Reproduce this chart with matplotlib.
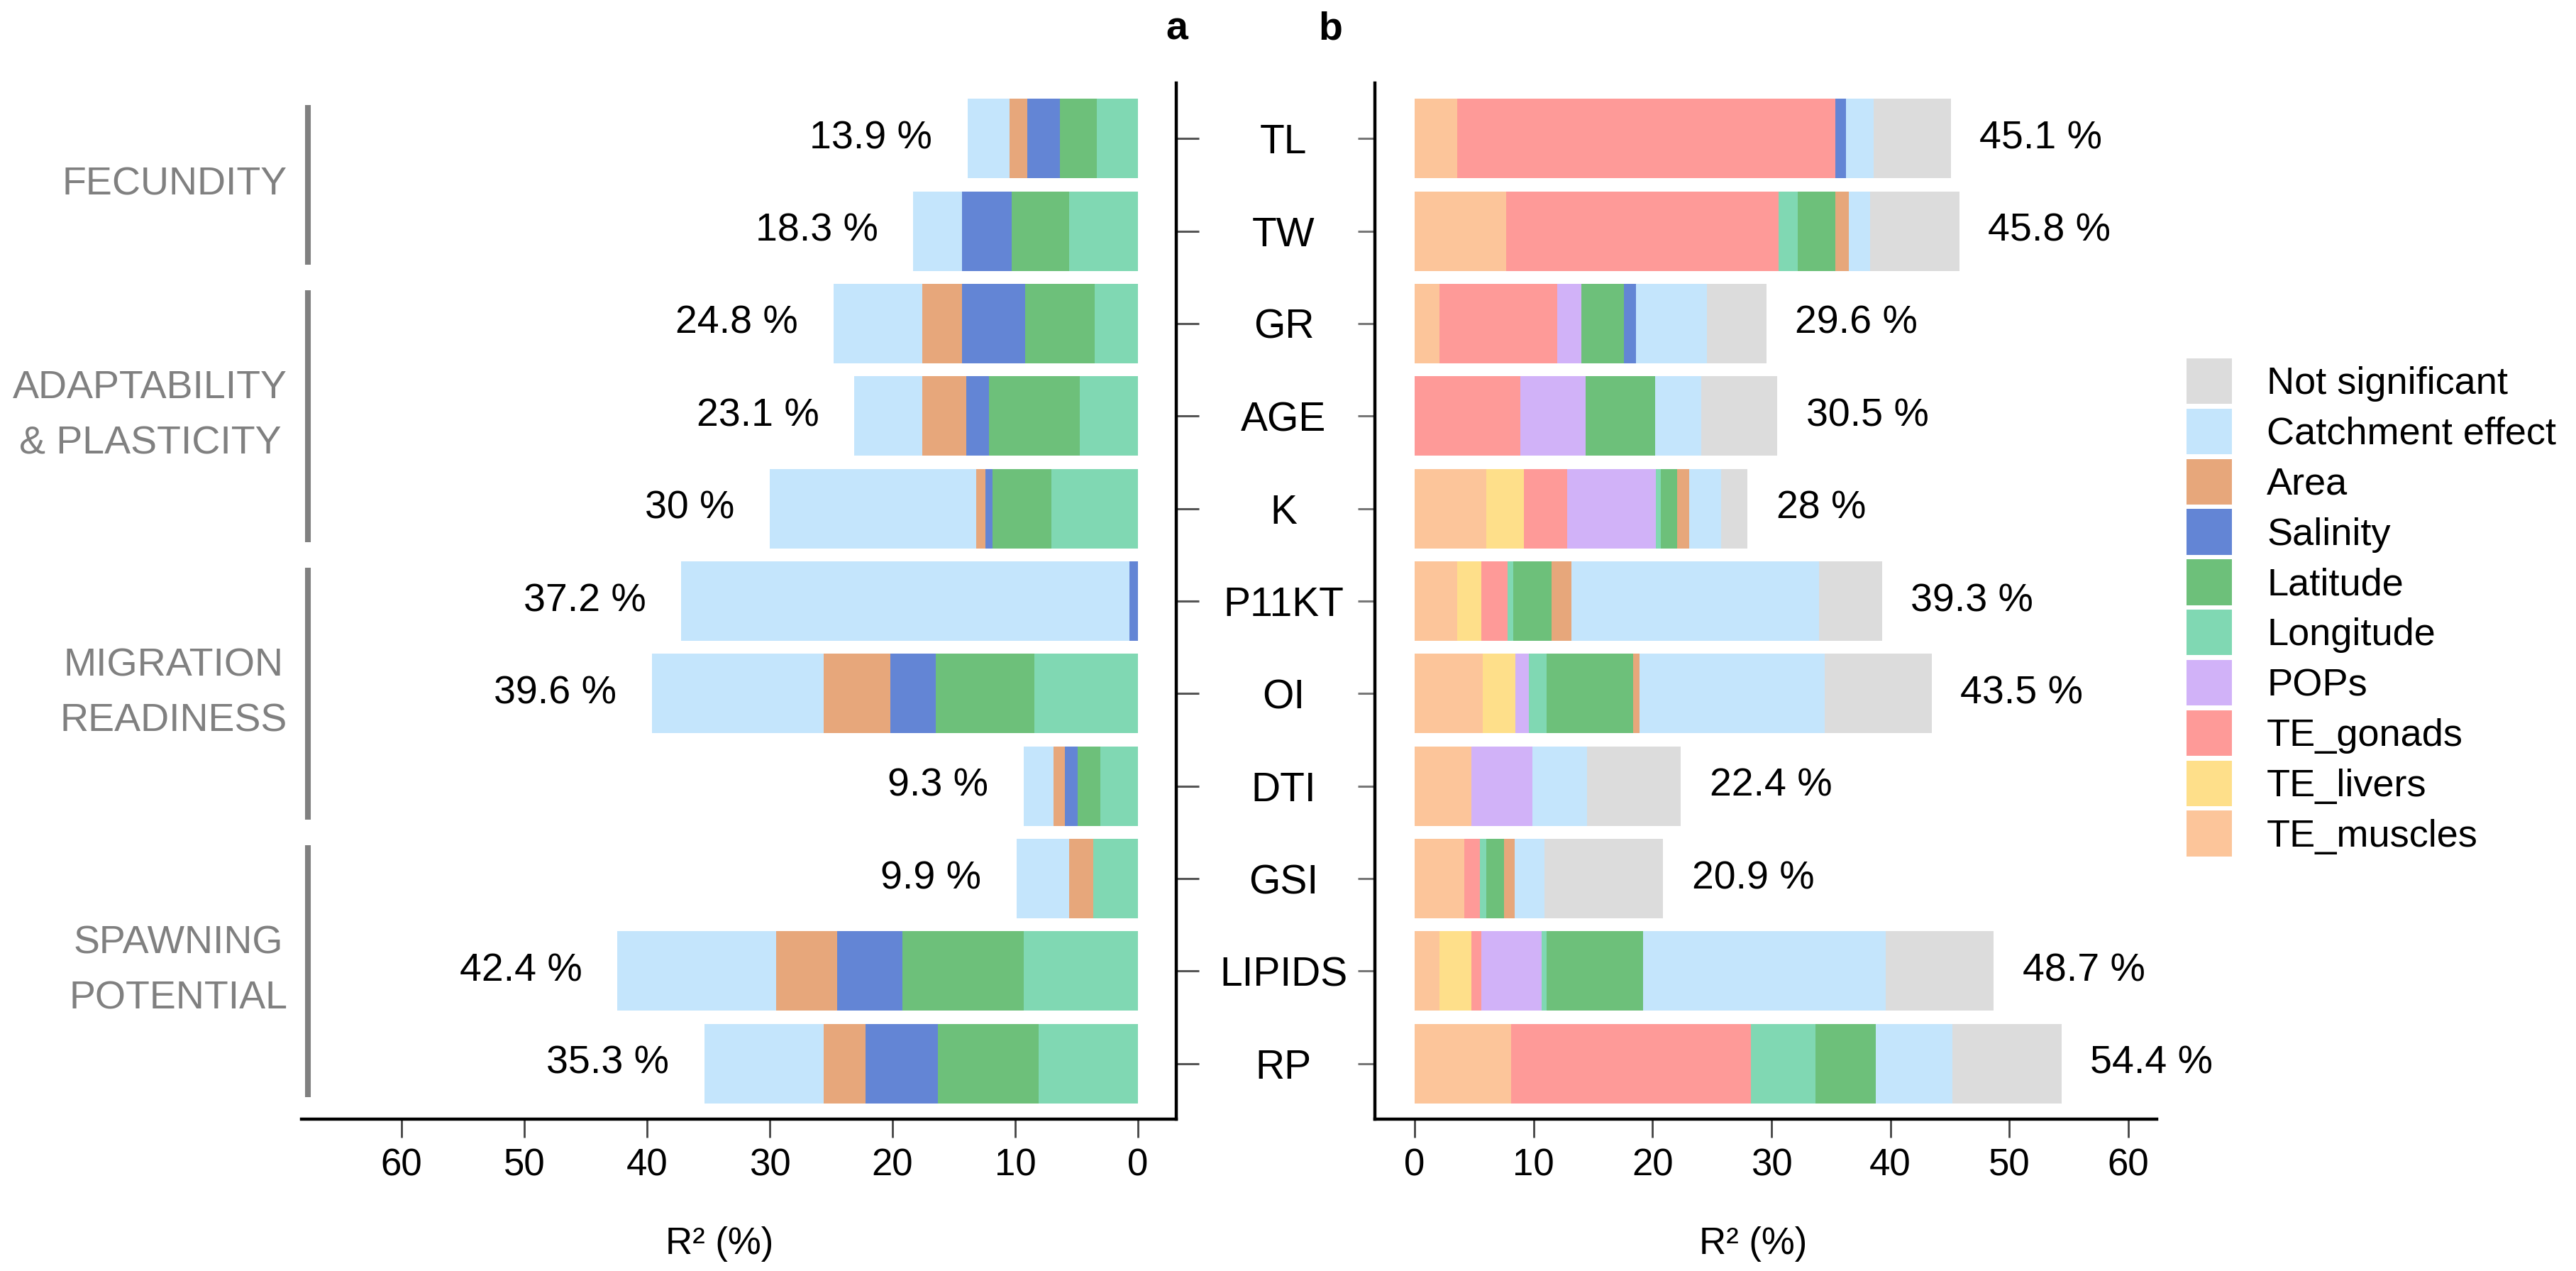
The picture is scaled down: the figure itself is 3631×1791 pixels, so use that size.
import numpy as np
import matplotlib
matplotlib.use("Agg")
import matplotlib.pyplot as plt
from matplotlib.patches import Patch
from matplotlib.transforms import blended_transform_factory

plt.rcParams['font.family'] = ['Liberation Sans', 'DejaVu Sans']

traits = ["TL", "TW", "GR", "AGE", "K", "P11KT", "OI", "DTI", "GSI", "LIPIDS", "RP"]
groups = ["FECUNDITY", "ADAPTABILITY\n& PLASTICITY", "MIGRATION\nREADINESS", "SPAWNING\nPOTENTIAL"]
group_members = [(0, 1), (2, 4), (5, 7), (8, 10)]

# panel a (stacked from 0 outwards: Longitude, Latitude, Salinity, Area, Catchment)
a_longitude = [3.35, 5.6, 3.5, 4.75, 7.05, 0, 8.45, 3.05, 3.65, 9.3, 8.1]
a_latitude = [3.0, 4.7, 5.7, 7.4, 4.8, 0, 8.0, 1.85, 0, 9.9, 8.2]
a_salinity = [2.65, 4.05, 5.15, 1.85, 0.6, 0.7, 3.75, 1.05, 0, 5.3, 5.9]
a_area = [1.45, 0, 3.2, 3.55, 0.75, 0, 5.4, 0.95, 1.95, 5.0, 3.4]
a_catchment = [3.45, 3.95, 7.25, 5.55, 16.8, 36.5, 14.0, 2.4, 4.3, 12.9, 9.7]
a_total = [13.9, 18.3, 24.8, 23.1, 30, 37.2, 39.6, 9.3, 9.9, 42.4, 35.3]

# panel b
b_muscles = [3.6, 7.7, 2.1, 0, 6.0, 3.6, 5.7, 4.8, 4.2, 2.1, 8.1]
b_livers = [0, 0, 0, 0, 3.2, 2.0, 2.8, 0, 0, 2.7, 0]
b_gonads = [31.8, 22.9, 9.9, 8.9, 3.65, 2.2, 0, 0, 1.3, 0.8, 20.2]
b_pops = [0, 0, 2.0, 5.5, 7.45, 0, 1.1, 5.1, 0, 5.1, 0]
b_longitude = [0, 1.6, 0, 0, 0.4, 0.5, 1.5, 0, 0.5, 0.4, 5.4]
b_latitude = [0, 3.2, 3.6, 5.8, 1.4, 3.2, 7.3, 0, 1.5, 8.1, 5.1]
b_salinity = [0.9, 0, 1.0, 0, 0, 0, 0, 0, 0, 0, 0]
b_area = [0, 1.1, 0, 0, 1.0, 1.7, 0.5, 0, 0.9, 0, 0]
b_catchment = [2.3, 1.8, 6.0, 3.9, 2.65, 20.8, 15.6, 4.6, 2.5, 20.4, 6.4]
b_notsig = [6.5, 7.5, 5.0, 6.4, 2.25, 5.3, 9.0, 7.9, 10.0, 9.1, 9.2]
b_total = [45.1, 45.8, 29.6, 30.5, 28, 39.3, 43.5, 22.4, 20.9, 48.7, 54.4]

colors = {
    "Not significant": "#DCDCDC",
    "Catchment effect": "#C4E5FC",
    "Area": "#E7A77B",
    "Salinity": "#6385D5",
    "Latitude": "#6DC07A",
    "Longitude": "#80D8B3",
    "POPs": "#D1B2F8",
    "TE_gonads": "#FE9A98",
    "TE_livers": "#FEDF8A",
    "TE_muscles": "#FCC59A",
}

a_series = [("Longitude", a_longitude), ("Latitude", a_latitude), ("Salinity", a_salinity),
            ("Area", a_area), ("Catchment effect", a_catchment)]
b_series = [("TE_muscles", b_muscles), ("TE_livers", b_livers), ("TE_gonads", b_gonads),
            ("POPs", b_pops), ("Longitude", b_longitude), ("Latitude", b_latitude),
            ("Salinity", b_salinity), ("Area", b_area), ("Catchment effect", b_catchment),
            ("Not significant", b_notsig)]

W, H = 3631, 1791
fig = plt.figure(figsize=(W / 100, H / 100), dpi=100)
ax1 = fig.add_axes([425 / W, 1 - 1577 / H, (1658 - 425) / W, (1577 - 117) / H])
ax2 = fig.add_axes([1938 / W, 1 - 1577 / H, (3040 - 1938) / W, (1577 - 117) / H])

y = np.arange(len(traits))
bh = 0.86


def stack(ax, series):
    left = np.zeros(len(traits))
    for name, vals in series:
        vals = np.array(vals, dtype=float)
        ax.barh(y, vals, left=left, height=bh, color=colors[name], linewidth=0)
        left += vals


stack(ax1, a_series)
stack(ax2, b_series)

ax1.set_xlim(68.15, -3.12)
ax2.set_xlim(-3.34, 62.4)
for ax in (ax1, ax2):
    ax.set_ylim(10.6, -0.6)
    ax.set_xticks(range(0, 61, 10))
    ax.tick_params(axis='x', length=19, width=2, color='#444444', labelsize=38, pad=10)
    for s in ax.spines.values():
        s.set_linewidth(3.2)
    ax.spines['top'].set_visible(False)

ax1.spines['left'].set_visible(False)
ax2.spines['right'].set_visible(False)

ax1.yaxis.tick_right()
ax1.set_yticks(y, traits)
ax1.tick_params(axis='y', length=23, width=2.2, color='#555555', labelsize=41, pad=86)
for lbl in ax1.get_yticklabels():
    lbl.set_ha('center')

ax2.set_yticks(y)
ax2.set_yticklabels([])
ax2.tick_params(axis='y', length=17, width=2.2, color='#777777')

for ax, fx in ((ax1, 0.478), (ax2, 0.484)):
    ax.set_xlabel("R² (%)", fontsize=38, va='center')
    ax.xaxis.set_label_coords(fx, -0.1205)

for i, t in enumerate(a_total):
    ax1.annotate(f"{t:g} %", xy=(t, i), xytext=(-36, 0), textcoords='offset points',
                 ha='right', va='center', fontsize=40)
for i, t in enumerate(b_total):
    ax2.annotate(f"{t:g} %", xy=(t, i), xytext=(29, 0), textcoords='offset points',
                 ha='left', va='center', fontsize=40)

# trait groups with grey brackets
tr = blended_transform_factory(fig.transFigure, ax1.transData)
for name, (first, last) in zip(groups, group_members):
    ax1.plot([434 / W, 434 / W], [first - 0.36, last + 0.36], transform=tr,
             color='#808080', lw=5.8, solid_capstyle='butt', clip_on=False)
    ax1.text(405 / W, (first + last) / 2, name, transform=tr, ha='right', va='center',
             multialignment='center', color='#808080', fontsize=40, linespacing=1.65)

fig.text(1659 / W, 1 - 42 / H, "a", fontsize=40, fontweight='bold', ha='center', va='center')
fig.text(1875 / W, 1 - 42 / H, "b", fontsize=40, fontweight='bold', ha='center', va='center')

legend_order = ["Not significant", "Catchment effect", "Area", "Salinity", "Latitude",
                "Longitude", "POPs", "TE_gonads", "TE_livers", "TE_muscles"]
handles = [Patch(facecolor=colors[n], edgecolor='none') for n in legend_order]
fs = 39 * 100 / 72
fig.legend(handles, legend_order, loc='upper left', bbox_to_anchor=(3082 / W, 1 - 505 / H),
           frameon=False, fontsize=39, handlelength=64 / fs, handleheight=1.45,
           handletextpad=49 / fs, labelspacing=0.12, borderpad=0, borderaxespad=0)

fig.savefig("out.png", dpi=100)
